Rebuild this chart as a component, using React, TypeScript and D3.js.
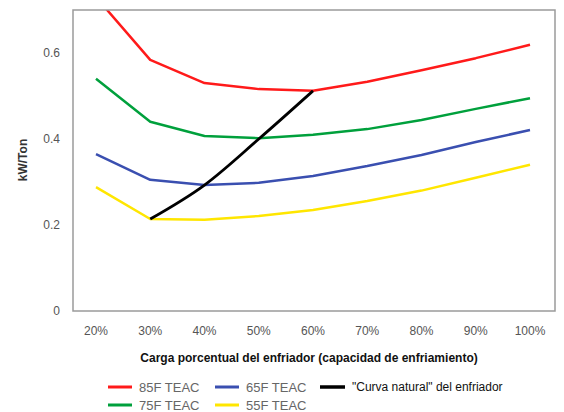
import React from "react";
import * as d3 from "d3";

const loads = ["20%", "30%", "40%", "50%", "60%", "70%", "80%", "90%", "100%"];
const teac85 = [0.73, 0.584, 0.53, 0.516, 0.512, 0.533, 0.56, 0.588, 0.619];
const teac75 = [0.54, 0.44, 0.407, 0.402, 0.41, 0.423, 0.444, 0.47, 0.495];
const teac65 = [0.365, 0.305, 0.293, 0.298, 0.314, 0.337, 0.363, 0.393, 0.421];
const teac55 = [0.288, 0.214, 0.212, 0.221, 0.235, 0.256, 0.28, 0.31, 0.34];
const naturalLoads = ["30%", "40%", "50%", "60%"];
const naturalCurve = [0.214, 0.293, 0.4, 0.512];
const yTicks = [0, 0.2, 0.4, 0.6];

const series = [
    {name: "85F TEAC", color: "#ff1a1a", values: teac85},
    {name: "75F TEAC", color: "#00a03c", values: teac75},
    {name: "65F TEAC", color: "#3a4fb0", values: teac65},
    {name: "55F TEAC", color: "#ffe600", values: teac55},
];

const App: React.FC = () => {
    const width = 564;
    const height = 412;
    const margin = {top: 10, right: 9, bottom: 101, left: 73};
    const innerW = width - margin.left - margin.right;
    const innerH = height - margin.top - margin.bottom;

    const x = d3.scalePoint().domain(loads).range([23, 457]);
    const y = d3.scaleLinear().domain([0, 0.7]).range([innerH, 0]);

    // mostly straight segments, as in the original
    const line = d3
        .line<number>()
        .x((_, i) => x(loads[i]) || 0)
        .y((d) => y(d))
        .curve(d3.curveLinear);

    const natural = d3
        .line<number>()
        .x((_, i) => x(naturalLoads[i]) || 0)
        .y((d) => y(d))
        .curve(d3.curveMonotoneX);

    const font = "'Liberation Sans', Arial, sans-serif";

    const legend = [
        {name: "85F TEAC", color: "#ff1a1a", lx: 108, ly: 387},
        {name: "65F TEAC", color: "#3a4fb0", lx: 215, ly: 387},
        {name: "75F TEAC", color: "#00a03c", lx: 108, ly: 405},
        {name: "55F TEAC", color: "#ffe600", lx: 215, ly: 405},
    ];

    return (
        <svg width={width} height={height} style={{position: "absolute", left: 0, top: 0, background: "#fff"}} fontFamily={font}>
            <defs>
                <clipPath id="plot">
                    <rect x={0} y={0} width={innerW} height={innerH}/>
                </clipPath>
            </defs>
            <g transform={`translate(${margin.left},${margin.top})`}>
                <g clipPath="url(#plot)">
                    {series.map((s) => (
                        <path key={s.name} d={line(s.values) || ""} fill="none" stroke={s.color}
                              strokeWidth={2.5} strokeLinejoin="round"/>
                    ))}
                    <path d={natural(naturalCurve) || ""} fill="none" stroke="#000" strokeWidth={2.8}/>
                </g>
                <rect x={0} y={0} width={innerW} height={innerH} fill="none" stroke="#9a9a9a" strokeWidth={1.5}/>
                {yTicks.map((t) => (
                    <text key={t} x={-13} y={y(t)} dy="0.35em" textAnchor="end" fontSize={12} fill="#555">
                        {t === 0 ? "0" : t.toFixed(1)}
                    </text>
                ))}
                {loads.map((l) => (
                    <text key={l} x={x(l)} y={innerH + 24} textAnchor="middle" fontSize={12} fill="#555">
                        {l}
                    </text>
                ))}
            </g>
            <text transform={`translate(27,160) rotate(-90)`} textAnchor="middle" fontSize={12} fontWeight="bold" fill="#333">
                kW/Ton
            </text>
            <text x={309} y={362} textAnchor="middle" fontSize={12} fontWeight="bold" fill="#111">
                Carga porcentual del enfriador (capacidad de enfriamiento)
            </text>
            {legend.map((d) => (
                <g key={d.name}>
                    <line x1={d.lx} x2={d.lx + 24} y1={d.ly} y2={d.ly} stroke={d.color} strokeWidth={3}/>
                    <text x={d.lx + 31} y={d.ly} dy="0.35em" fontSize={13} fill="#666">{d.name}</text>
                </g>
            ))}
            <line x1={320} x2={345} y1={387} y2={387} stroke="#000" strokeWidth={3.5}/>
            <text x={352} y={387} dy="0.35em" fontSize={12} fill="#111">"Curva natural" del enfriador</text>
        </svg>
    );
};

export default App;
